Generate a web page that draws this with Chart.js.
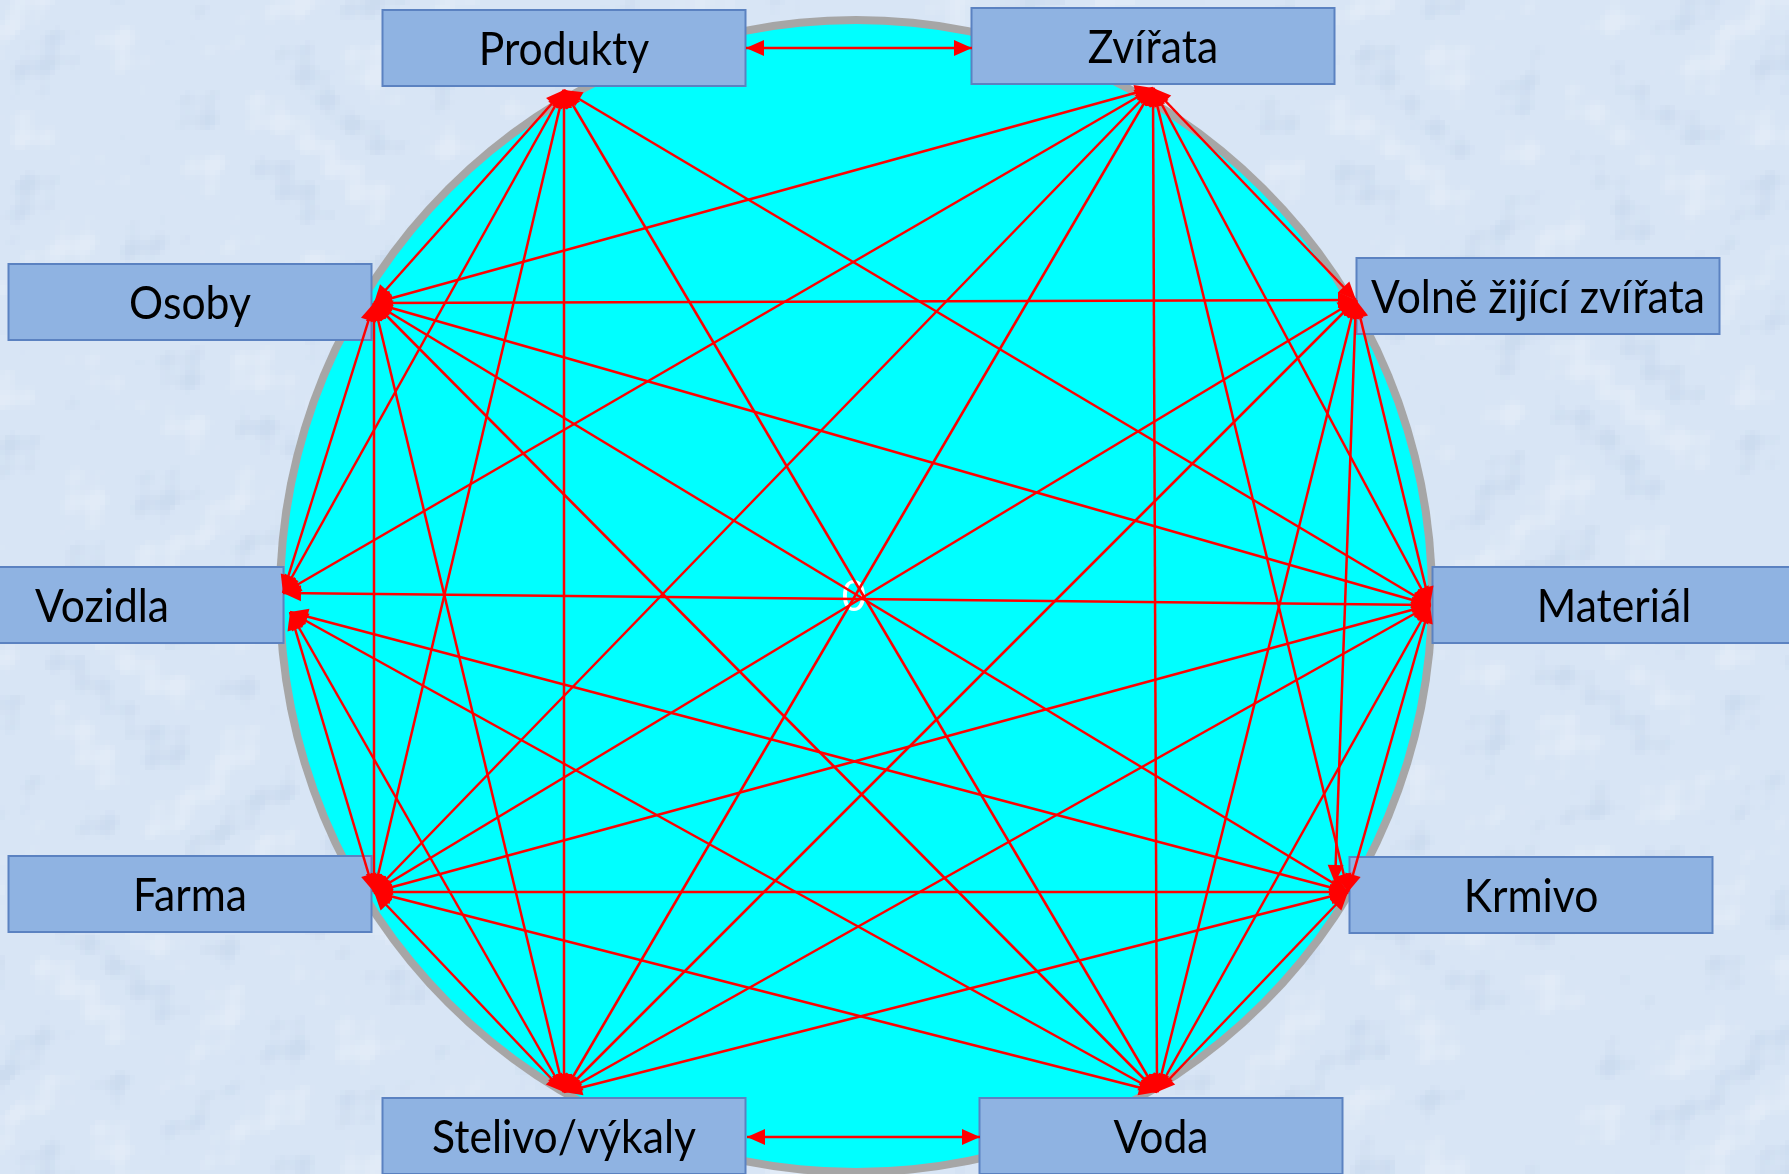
<!DOCTYPE html>
<html lang="cs">
<head>
<meta charset="utf-8" />
<title>Vazby</title>
<script src="https://cdn.jsdelivr.net/npm/chart.js@4/dist/chart.umd.min.js"></script>
<style>
  html, body { margin: 0; padding: 0; background: #d9e6f5; overflow: hidden; }
  #wrap { width: 1789px; height: 1174px; }
</style>
</head>
<body>
<div id="wrap"><canvas id="chart" width="1789" height="1174"></canvas></div>
<script>
// boxes (label + centre in chart units)
const nodeNames = ["Produkty", "Zvířata", "Volně žijící zvířata", "Materiál", "Krmivo",
  "Voda", "Stelivo/výkaly", "Farma", "Vozidla", "Osoby"];
const boxX = [564, 1153, 1538, 1614, 1531, 1161, 564, 190, 102, 190];
const boxY = [48, 46, 296, 605, 895, 1136, 1136, 894, 605, 302];

// points where the arrows end
const anchorIds = ["P", "Z", "W", "M", "K", "K2", "V", "S", "F", "Vo", "Vo2", "O", "Pe", "Zw", "Se", "Vw"];
const anchorX = [564, 1153, 1356, 1430, 1348, 1335, 1157, 564, 374, 283, 290, 374, 746, 972, 747, 980];
const anchorY = [90, 88, 300, 605, 892, 883, 1092, 1092, 892, 593, 612, 303, 48, 48, 1137, 1137];

const links = [
  ["Pe", "Zw"], ["Se", "Vw"],
  ["P", "O"], ["P", "Vo"], ["P", "F"], ["P", "S"], ["P", "V"], ["P", "M"],
  ["Z", "O"], ["Z", "Vo"], ["Z", "F"], ["Z", "S"], ["Z", "V"], ["Z", "K"], ["Z", "M"], ["Z", "W"],
  ["W", "O"], ["W", "F"], ["W", "S"], ["W", "V"], ["W", "K2"], ["W", "M"],
  ["M", "O"], ["M", "Vo"], ["M", "F"], ["M", "S"], ["M", "K"], ["M", "V"],
  ["K", "O"], ["K", "Vo2"], ["K", "F"], ["K", "S"], ["K", "V"],
  ["V", "O"], ["V", "Vo2"], ["V", "F"],
  ["S", "O"], ["S", "F"], ["S", "Vo2"],
  ["F", "O"], ["F", "Vo2"],
  ["Vo", "O"],
];

// the round background
const ring = { x: 856, y: 596, r: 580 };
const centerLabel = "0";

const BOX_W = 363, BOX_H = 76;
const RED = "#ff0000";

function pt(id) {
  const i = anchorIds.indexOf(id);
  return { x: anchorX[i], y: anchorY[i] };
}

const datasets = links.map(([a, b]) => ({
  data: [pt(a), pt(b)],
  showLine: true,
  borderColor: RED,
  borderWidth: 2.5,
  pointRadius: 0,
  pointHoverRadius: 0,
  clip: false,
}));

// soft mottled paper look behind everything (deterministic)
function paper(ctx, w, h) {
  ctx.fillStyle = "#d8e5f5";
  ctx.fillRect(0, 0, w, h);
  const cell = 5;
  for (let gy = 0; gy < h; gy += cell) {
    for (let gx = 0; gx < w; gx += cell) {
      const v = Math.sin(gx * 0.047 + Math.sin(gy * 0.023) * 3) +
        Math.sin(gy * 0.051 + Math.sin(gx * 0.029) * 2) +
        0.7 * Math.sin((gx + gy) * 0.13) * Math.sin((gx - gy) * 0.09);
      if (v > 0.8) {
        ctx.fillStyle = "rgba(255,255,255," + Math.min(0.25, (v - 0.8) * 0.18).toFixed(3) + ")";
        ctx.fillRect(gx, gy, cell, cell);
      } else if (v < -1.1) {
        ctx.fillStyle = "rgba(140,170,210," + Math.min(0.15, (-1.1 - v) * 0.12).toFixed(3) + ")";
        ctx.fillRect(gx, gy, cell, cell);
      }
    }
  }
}

const LABEL_PX = 46;
let labelScale = null;

const scenery = {
  id: "scenery",
  beforeDatasetsDraw(chart) {
    const { ctx, scales: { x, y } } = chart;
    ctx.save();
    paper(ctx, chart.width, chart.height);

    // circle with grey rim
    const cx = x.getPixelForValue(ring.x);
    const cy = y.getPixelForValue(ring.y);
    const r = x.getPixelForValue(ring.x + ring.r) - cx;
    ctx.beginPath();
    ctx.arc(cx, cy, r, 0, Math.PI * 2);
    ctx.fillStyle = "#a6a6a6";
    ctx.fill();
    ctx.beginPath();
    ctx.arc(cx, cy, r - 8, 0, Math.PI * 2);
    ctx.fillStyle = "#00ffff";
    ctx.fill();

    ctx.fillStyle = "#ffffff";
    ctx.font = "42px Lato";
    ctx.textAlign = "center";
    ctx.textBaseline = "middle";
    ctx.fillText(centerLabel, cx - 2, cy + 1);

    // labels look like a narrow font: squeeze Lato a little
    ctx.font = LABEL_PX + "px Lato";
    if (labelScale === null) {
      labelScale = 334 / ctx.measureText("Volně žijící zvířata").width;
    }

    const bw = x.getPixelForValue(BOX_W) - x.getPixelForValue(0);
    const bh = Math.abs(y.getPixelForValue(BOX_H) - y.getPixelForValue(0));
    nodeNames.forEach((name, i) => {
      const px = x.getPixelForValue(boxX[i]);
      const py = y.getPixelForValue(boxY[i]);
      ctx.fillStyle = "#8fb3e2";
      ctx.fillRect(px - bw / 2, py - bh / 2, bw, bh);
      ctx.strokeStyle = "#5b82c1";
      ctx.lineWidth = 2;
      ctx.strokeRect(px - bw / 2, py - bh / 2, bw, bh);
      ctx.save();
      ctx.translate(px, py + 2);
      ctx.scale(labelScale, 1);
      ctx.fillStyle = "#000";
      ctx.fillText(name, 0, 0);
      ctx.restore();
    });
    ctx.restore();
  },
  afterDatasetsDraw(chart) {
    const ctx = chart.ctx;
    ctx.save();
    ctx.fillStyle = RED;
    chart.data.datasets.forEach((ds, i) => {
      const p = chart.getDatasetMeta(i).data;
      arrow(ctx, p[1], p[0]);
      arrow(ctx, p[0], p[1]);
    });
    ctx.restore();
  },
};

function arrow(ctx, from, to) {
  const a = Math.atan2(to.y - from.y, to.x - from.x);
  const len = 18, half = 8;
  ctx.beginPath();
  ctx.moveTo(to.x, to.y);
  ctx.lineTo(to.x - len * Math.cos(a) + half * Math.sin(a), to.y - len * Math.sin(a) - half * Math.cos(a));
  ctx.lineTo(to.x - len * Math.cos(a) - half * Math.sin(a), to.y - len * Math.sin(a) + half * Math.cos(a));
  ctx.closePath();
  ctx.fill();
}

new Chart(document.getElementById("chart"), {
  type: "scatter",
  data: { datasets },
  options: {
    responsive: false,
    animation: false,
    devicePixelRatio: 1,
    layout: { padding: 0 },
    scales: {
      x: { type: "linear", min: 0, max: 1789, display: false },
      y: { type: "linear", min: 0, max: 1174, reverse: true, display: false },
    },
    plugins: { legend: { display: false }, tooltip: { enabled: false } },
    events: [],
  },
  plugins: [scenery],
});
</script>
</body>
</html>
